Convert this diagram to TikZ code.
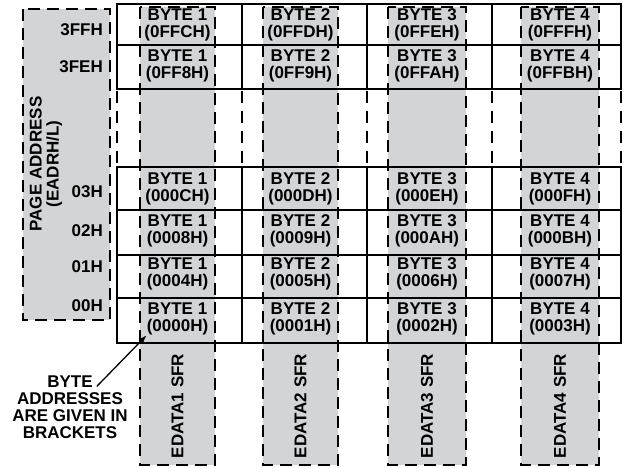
\documentclass[tikz,border=0pt]{standalone}
\usepackage{fontspec}
\setmainfont{Liberation Sans}
\usetikzlibrary{arrows.meta,positioning}
\definecolor{sfrgray}{HTML}{D3D4D6}
\tikzset{
  sfrcol/.style   = {fill=sfrgray, draw, line width=1.8pt, dash pattern=on 12pt off 7pt},
  gridline/.style = {line width=1.6pt},
  gapline/.style  = {line width=1.6pt, dash pattern=on 12pt off 8pt},
  celltxt/.style  = {font=\bfseries\fontsize{17}{17}\selectfont, align=center, inner sep=0pt},
  pagelab/.style  = {font=\bfseries\fontsize{17}{17}\selectfont, anchor=east, inner sep=0pt},
  notearrow/.style = {-{Latex[length=8pt,width=6pt]}, line width=1.3pt},
}
\begin{document}
\begin{tikzpicture}[x=1pt,y=-1pt]
\useasboundingbox (0,0) rectangle (624,468);
% page address column
\draw[sfrcol] (23,9) rectangle (110,320);
\node[celltxt,rotate=90] (pageaddr) at (46,164) {PAGE ADDRESS\\(EADRH/L)};
\foreach \y/\lab in {30/3FFH, 67/3FEH, 192/03H, 231/02H, 267/01H, 306/00H}{
  \node[pagelab] (pg\lab) at (103,\y) {\lab};}
% EDATA columns with the byte cells
\foreach \xl/\xr/\n/\ha/\hb/\hc/\hd in {140/215/1/C/8/4/0, 263/338/2/D/9/5/1,
    388/466/3/E/A/6/2, 521/599/4/F/B/7/3}{
  \draw[sfrcol] (\xl,7) rectangle (\xr,465);
  \pgfmathsetmacro\xc{(\xl+\xr)/2}
  \node[celltxt] (b\n-3ff) at (\xc,25)  {BYTE \n\\(0FF\ha H)};
  \node[celltxt] (b\n-3fe) at (\xc,66)  {BYTE \n\\(0FF\hb H)};
  \node[celltxt] (b\n-03)  at (\xc,189) {BYTE \n\\(000\ha H)};
  \node[celltxt] (b\n-02)  at (\xc,231) {BYTE \n\\(000\hb H)};
  \node[celltxt] (b\n-01)  at (\xc,274) {BYTE \n\\(000\hc H)};
  \node[celltxt] (b\n-00)  at (\xc,319) {BYTE \n\\(000\hd H)};
  \node[celltxt,rotate=90] (sfr\n) at (\xc,406) {EDATA\n\ SFR};
}
% grid: top pages, gap, bottom pages
\draw[gridline] (117,4) rectangle (621,89);
\draw[gridline] (117,45) -- (621,45);
\draw[gridline] (117,167) rectangle (621,343);
\foreach \y in {210,255,298}
  \draw[gridline] (117,\y) -- (621,\y);
\foreach \x in {242,367,492}{
  \draw[gridline] (\x,4) -- (\x,89);
  \draw[gridline] (\x,167) -- (\x,343);}
\foreach \x in {117,242,367,492,621}
  \draw[gapline] (\x,91) -- (\x,167);
% note
\node[celltxt] (note) at (70,407) {BYTE\\ADDRESSES\\ARE GIVEN IN\\BRACKETS};
\draw[notearrow] ([xshift=-31pt,yshift=-11pt]note.north east) -- (b1-00.south west);
\end{tikzpicture}
\end{document}
